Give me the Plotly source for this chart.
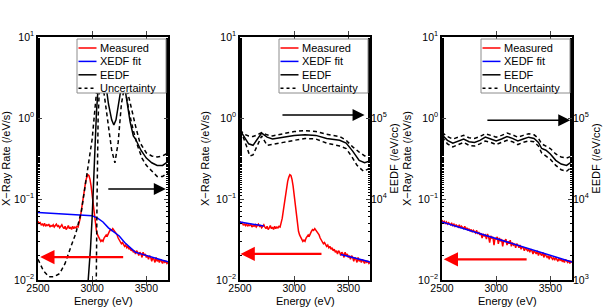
import numpy as np
import plotly.graph_objects as go

# ---------------- data ----------------
energy = np.arange(2500, 3701, 10)  # eV, 10 eV bins

measured_peak = [
    .053, .050, .051, .048, .049, .047, .050, .046, .048, .047,
    .049, .045, .047, .046, .048, .045, .047, .049, .046, .047,
    .044, .046, .048, .045, .043, .046, .042, .044, .047, .043,
    .045, .042, .046, .043, .045, .044, .046, .045, .050, .058,
    .072, .090, .115, .140, .165, .185, .200, .195, .175, .145,
    .110, .085, .062, .048, .040, .036, .034, .031, .030, .031,
    .030, .033, .034, .036, .035, .038, .040, .042, .041, .043,
    .041, .040, .037, .036, .033, .031, .030, .028, .029, .027,
    .026, .027, .025, .026, .024, .025, .023, .024, .022, .023,
    .021, .023, .022, .020, .022, .021, .019, .022, .020, .021,
    .019, .020, .018, .020, .019, .017, .019, .018, .0165, .019,
    .017, .018, .0165, .018, .017, .016, .0175, .0165, .017, .016,
    .0165,
]

measured_flat = [
    .055, .051, .053, .050, .052, .049, .051, .050, .048, .050,
    .047, .049, .046, .048, .047, .045, .048, .044, .046, .045,
    .043, .046, .042, .044, .041, .043, .040, .042, .039, .041,
    .040, .038, .041, .037, .039, .036, .038, .033, .037, .035,
    .036, .032, .037, .034, .029, .035, .033, .034, .027, .033,
    .032, .034, .028, .033, .030, .032, .026, .031, .030, .032,
    .027, .030, .028, .031, .026, .029, .027, .028, .025, .028,
    .027, .025, .027, .024, .026, .025, .023, .025, .024, .023,
    .024, .022, .024, .023, .021, .023, .022, .021, .023, .020,
    .022, .021, .020, .022, .019, .021, .020, .019, .020, .018,
    .020, .019, .018, .019, .0175, .019, .018, .017, .0185, .0175,
    .018, .017, .0175, .0165, .018, .017, .0165, .0175, .016, .017,
    .0165,
]

# XEDF fits (X-ray rate, /eV/s)
fit1_e = [2500, 2600, 2700, 2800, 2900, 2950, 3000, 3050, 3100, 3150, 3200,
          3250, 3300, 3350, 3400, 3450, 3500, 3550, 3600, 3650, 3700]
fit1_v = [.068, .067, .066, .065, .064, .063, .062, .058, .052, .044, .039,
          .035, .029, .025, .022, .021, .020, .019, .018, .0175, .0168]

fit2a_e = [2500, 2550, 2600, 2650, 2700, 2720]
fit2a_v = [.052, .0505, .0495, .048, .047, .0465]
fit2b_e = [3430, 3500, 3550, 3600, 3650, 3700]
fit2b_v = [.0207, .0197, .0188, .0181, .0174, .0167]

fit3_e = [2500, 2600, 2700, 2800, 2900, 3000, 3100, 3200, 3300, 3400, 3500, 3600, 3700]
fit3_v = [.052, .0473, .0430, .0391, .0356, .0324, .0295, .0268, .0244, .0222, .0202, .0184, .0167]

# EEDF (/eV/cc) panel 1
eedf1_e = [2955, 2970, 2985, 3000, 3020, 3040, 3060, 3090, 3120, 3150, 3180, 3200,
           3220, 3250, 3280, 3310, 3350, 3380, 3400, 3450, 3500, 3550, 3600, 3650, 3700]
eedf1_v = [7e2, 1.2e3, 2.5e3, 6e3, 2.5e4, 1.2e5, 3e5, 5e5, 3e5, 1.5e5, 9.5e4, 8.2e4,
           9.5e4, 1.8e5, 3e5, 2e5, 9e4, 6e4, 5.5e4, 4e4, 3.2e4, 2.8e4, 2.6e4, 2.6e4, 2.9e4]
unc1_hi_e = [2500, 2550, 2600, 2650, 2700, 2750, 2800, 2850, 2900, 2935, 2970, 3000, 3030,
             3060, 3100, 3150, 3210, 3260, 3300, 3350, 3400, 3440, 3500, 3550, 3600, 3650, 3700]
unc1_hi_v = [1.8e3, 1.3e3, 1.1e3, 1.1e3, 1.2e3, 1.6e3, 2.5e3, 3.8e3, 7e3, 1.4e4, 3e4, 5.5e4, 1.5e5,
             4e5, 6e5, 4e5, 2.2e5, 3.5e5, 3e5, 1.5e5, 8e4, 5e4, 3.7e4, 3.4e4, 3.3e4, 3.4e4, 3.7e4]
unc1_lo_e = [3030, 3038, 3045, 3055, 3070, 3110, 3150, 3180, 3210, 3240, 3270, 3300,
             3340, 3380, 3420, 3460, 3500, 3550, 3600, 3650, 3700]
unc1_lo_v = [5e2, 1e3, 1e4, 1e5, 3e5, 2e5, 8e4, 4e4, 2.8e4, 5e4, 1.5e5, 2.5e5,
             1.2e5, 7e4, 4.5e4, 3.2e4, 2.6e4, 2.2e4, 1.9e4, 1.9e4, 2.1e4]

# EEDF panel 2
eedf2_e = [2500, 2540, 2580, 2620, 2660, 2700, 2750, 2800, 2900, 3000, 3100, 3200,
           3300, 3420, 3480, 3540, 3600, 3650, 3700]
eedf2_v = [7.1e4, 5.8e4, 4.8e4, 4.6e4, 5.4e4, 6.5e4, 5.8e4, 5.5e4, 5.8e4, 6.1e4, 6.2e4, 6.1e4,
           5.6e4, 5.3e4, 4.9e4, 3.9e4, 3.0e4, 2.8e4, 2.95e4]
unc2_hi_e = [2500, 2540, 2580, 2620, 2660, 2700, 2750, 2800, 2900, 3000, 3100, 3200,
             3300, 3420, 3480, 3540, 3600, 3650, 3700]
unc2_hi_v = [7.1e4, 6.3e4, 6.0e4, 5.9e4, 6.2e4, 6.6e4, 6.2e4, 6.0e4, 6.4e4, 6.8e4, 7.0e4, 6.8e4,
             6.3e4, 5.9e4, 5.3e4, 4.4e4, 3.8e4, 3.4e4, 3.6e4]
unc2_lo_e = [2500, 2530, 2560, 2590, 2620, 2660, 2700, 2750, 2800, 2900, 3000, 3100, 3200,
             3300, 3420, 3480, 3540, 3580, 3640, 3700]
unc2_lo_v = [7.0e4, 5.8e4, 4.5e4, 3.4e4, 3.5e4, 4.6e4, 6.0e4, 4.6e4, 4.7e4, 5.0e4, 5.3e4, 5.6e4, 5.5e4,
             4.9e4, 4.5e4, 4.2e4, 3.2e4, 2.6e4, 2.2e4, 2.4e4]

# EEDF panel 3
eedf3_e = [2500, 2550, 2600, 2650, 2700, 2750, 2800, 2850, 2900, 2950, 3000, 3050, 3100,
           3150, 3200, 3250, 3300, 3350, 3390, 3420, 3460, 3500, 3550, 3600, 3650, 3700]
eedf3_v = [6.2e4, 5.3e4, 4.9e4, 5.2e4, 5.5e4, 5.1e4, 5.0e4, 5.3e4, 5.8e4, 5.5e4, 5.2e4, 5.5e4, 5.9e4,
           5.6e4, 5.2e4, 5.5e4, 5.8e4, 5.6e4, 5.0e4, 4.2e4, 4.0e4, 3.6e4, 3.0e4, 2.7e4, 2.6e4, 2.9e4]
unc3_hi_v = [6.6e4, 5.9e4, 5.5e4, 5.8e4, 6.1e4, 5.7e4, 5.6e4, 5.9e4, 6.4e4, 6.1e4, 5.8e4, 6.1e4, 6.5e4,
             6.2e4, 5.8e4, 6.1e4, 6.4e4, 6.2e4, 5.6e4, 4.8e4, 4.5e4, 4.2e4, 3.6e4, 3.3e4, 3.2e4, 3.4e4]
unc3_lo_v = [5.8e4, 4.8e4, 4.4e4, 4.7e4, 5.0e4, 4.6e4, 4.5e4, 4.8e4, 5.2e4, 5.0e4, 4.7e4, 5.0e4, 5.3e4,
             5.1e4, 4.7e4, 5.0e4, 5.2e4, 5.1e4, 4.5e4, 3.7e4, 3.4e4, 3.1e4, 2.6e4, 2.3e4, 2.2e4, 2.5e4]

# arrows: (start energy, end energy, level)
arrows_black = [(3135, 3680, 0.133), (2878, 3650, 1.09), (2905, 3684, 0.94)]
arrows_red = [(3300, 2520, 0.0192), (3266, 2505, 0.021), (3295, 2516, 0.018)]

legend_labels = ["Measured", "XEDF fit", "EEDF", "Uncertainty"]
x_title = "Energy (eV)"
xticks = [2500, 3000, 3500]
yl_vals = [0.01, 0.1, 1, 10]
yl_text = ["10<sup>−2</sup>", "10<sup>−1</sup>", "10<sup>0</sup>", "10<sup>1</sup>"]
yr_vals = [1e3, 1e4, 1e5, 1e6]
yr_text_p2 = ["", "10<sup>4</sup>", "10<sup>5</sup>", ""]
yr_text_p3 = ["10<sup>3</sup>", "10<sup>4</sup>", "10<sup>5</sup>", ""]

assert len(measured_peak) == len(energy) and len(measured_flat) == len(energy)

# ---------------- figure ----------------
FONT = "Liberation Sans, Arial, sans-serif"
W, H = 605, 307
ML, MR, MT, MB = 38, 33, 37, 27
PW = W - ML - MR
panel_px = [(38, 168), (240, 370), (442, 572)]
xdoms = [((a - ML) / PW, (b - ML) / PW) for a, b in panel_px]

RED, BLUE = "#ff0000", "#0000ff"
DASH = "4px,3px"
LEG_DASH = "3px,3px"

fig = go.Figure()


def add_panel(i, meas, fits, eedf, unc_hi, unc_lo):
    xa = "x" if i == 0 else f"x{i+1}"
    ya = "y" if i == 0 else f"y{i+1}"
    yr = f"y{i+4}"
    fig.add_trace(go.Scatter(x=energy, y=meas, mode="lines", line=dict(color=RED, width=1.5),
                             name="Measured", xaxis=xa, yaxis=ya))
    for fe, fv in fits:
        fig.add_trace(go.Scatter(x=fe, y=fv, mode="lines", line=dict(color=BLUE, width=1.5),
                                 name="XEDF fit", xaxis=xa, yaxis=ya))
    fig.add_trace(go.Scatter(x=eedf[0], y=eedf[1], mode="lines", line=dict(color="black", width=1.5),
                             name="EEDF", xaxis=xa, yaxis=yr))
    for u in (unc_hi, unc_lo):
        fig.add_trace(go.Scatter(x=u[0], y=u[1], mode="lines",
                                 line=dict(color="black", width=1.5, dash=DASH),
                                 name="Uncertainty", xaxis=xa, yaxis=yr))


add_panel(0, measured_peak, [(fit1_e, fit1_v)], (eedf1_e, eedf1_v),
          (unc1_hi_e, unc1_hi_v), (unc1_lo_e, unc1_lo_v))
add_panel(1, measured_peak, [(fit2a_e, fit2a_v), (fit2b_e, fit2b_v)], (eedf2_e, eedf2_v),
          (unc2_hi_e, unc2_hi_v), (unc2_lo_e, unc2_lo_v))
add_panel(2, measured_flat, [(fit3_e, fit3_v)], (eedf3_e, eedf3_v),
          (eedf3_e, unc3_hi_v), (eedf3_e, unc3_lo_v))

axis_font = dict(family=FONT, size=11, color="black")
tick_font = dict(family=FONT, size=10.5, color="black")
common_x = dict(range=[2500, 3700], tickvals=xticks, ticks="inside", ticklen=4,
                showline=True, linecolor="black", linewidth=1.5, mirror="allticks",
                showgrid=False, zeroline=False, tickfont=tick_font, automargin=False,
                ticklabelstandoff=-2)
layout = dict(width=W, height=H, margin=dict(l=ML, r=MR, t=MT, b=MB),
              paper_bgcolor="white", plot_bgcolor="white", font=axis_font,
              showlegend=False, template="none")

for i in range(3):
    xk = "xaxis" if i == 0 else f"xaxis{i+1}"
    yk = "yaxis" if i == 0 else f"yaxis{i+1}"
    anchor_y = "y" if i == 0 else f"y{i+1}"
    anchor_x = "x" if i == 0 else f"x{i+1}"
    layout[xk] = dict(common_x, domain=list(xdoms[i]), anchor=anchor_y)
    layout[yk] = dict(type="log", range=[-2, 1], domain=[0, 1], anchor=anchor_x,
                      tickvals=yl_vals, ticktext=yl_text, ticks="inside", ticklen=4,
                      minor=dict(ticks="inside", ticklen=2, showgrid=False, tickcolor="black"),
                      showline=True, linecolor="black", linewidth=1.5, mirror=True,
                      showgrid=False, zeroline=False, tickfont=tick_font, automargin=False,
                      title=dict(text="X−Ray Rate (/eV/s)", font=axis_font, standoff=4))
    layout[f"yaxis{i+4}"] = dict(type="log", range=[3, 6], overlaying=anchor_y, side="right",
                                 anchor=anchor_x, tickvals=yr_vals,
                                 ticktext=[yr_text_p2, yr_text_p2, yr_text_p3][i],
                                 ticks="inside", ticklen=4,
                                 minor=dict(ticks="inside", ticklen=2, showgrid=False, tickcolor="black"),
                                 showline=False, showgrid=False, zeroline=False, tickfont=tick_font,
                                 showticklabels=(i > 0), automargin=False,
                                 title=dict(text="EEDF (/eV/cc)" if i > 0 else "", font=axis_font, standoff=4))

fig.update_layout(**layout)

# ---- arrows ----
annotations = []
PH = 243.0
for i in range(3):
    xr = "x" if i == 0 else f"x{i+1}"
    yr = "y" if i == 0 else f"y{i+1}"
    s, e, lv = arrows_black[i]
    annotations.append(dict(x=e, y=np.log10(lv), ax=s, ay=np.log10(lv), xref=xr, yref=yr,
                            axref=xr, ayref=yr, text="", showarrow=True, arrowhead=2,
                            arrowsize=1.6, arrowwidth=1.5, arrowcolor="black"))
    s, e, lv = arrows_red[i]
    annotations.append(dict(x=e, y=np.log10(lv), ax=s, ay=np.log10(lv), xref=xr, yref=yr,
                            axref=xr, ayref=yr, text="", showarrow=True, arrowhead=2,
                            arrowsize=1.3, arrowwidth=2.2, arrowcolor=RED))
    # x-axis title below the tick labels
    annotations.append(dict(x=0.5, y=-20.5 / PH, xref=xr + " domain", yref=yr + " domain",
                            text=x_title, showarrow=False, xanchor="center", yanchor="middle",
                            font=axis_font))

# ---- legend boxes (drawn per panel, in axis-domain units) ----
shapes = []
leg_styles = [dict(color=RED, width=1.5), dict(color=BLUE, width=1.5),
              dict(color="black", width=1.5), dict(color="black", width=1.5, dash=LEG_DASH)]
for i in range(3):
    xd = ("x" if i == 0 else f"x{i+1}") + " domain"
    yd = ("y" if i == 0 else f"y{i+1}") + " domain"
    right = 128.0  # px from panel left
    left = right - 89.0
    top, bottom = 2.0, 56.0  # px below panel top
    fx = lambda px: px / 130.0
    fy = lambda py: 1 - py / PH
    shapes.append(dict(type="rect", xref=xd, yref=yd, x0=fx(left), x1=fx(right),
                       y0=fy(bottom), y1=fy(top), line=dict(color="#8c8c8c", width=1),
                       fillcolor="white", layer="above"))
    for k, lab in enumerate(legend_labels):
        yy = 11 + k * 13.4
        shapes.append(dict(type="line", xref=xd, yref=yd, x0=fx(left + 1.5), x1=fx(left + 19.5),
                           y0=fy(yy), y1=fy(yy), line=leg_styles[k], layer="above"))
        annotations.append(dict(x=fx(left + 21), y=fy(yy), xref=xd, yref=yd, text=lab,
                                showarrow=False, xanchor="left", yanchor="middle",
                                font=dict(family=FONT, size=11, color="black")))

fig.update_layout(annotations=annotations, shapes=shapes)

fig.write_html("out.html", config={"displayModeBar": False},
               post_script="document.body.style.margin='0';document.body.style.padding='0';")
